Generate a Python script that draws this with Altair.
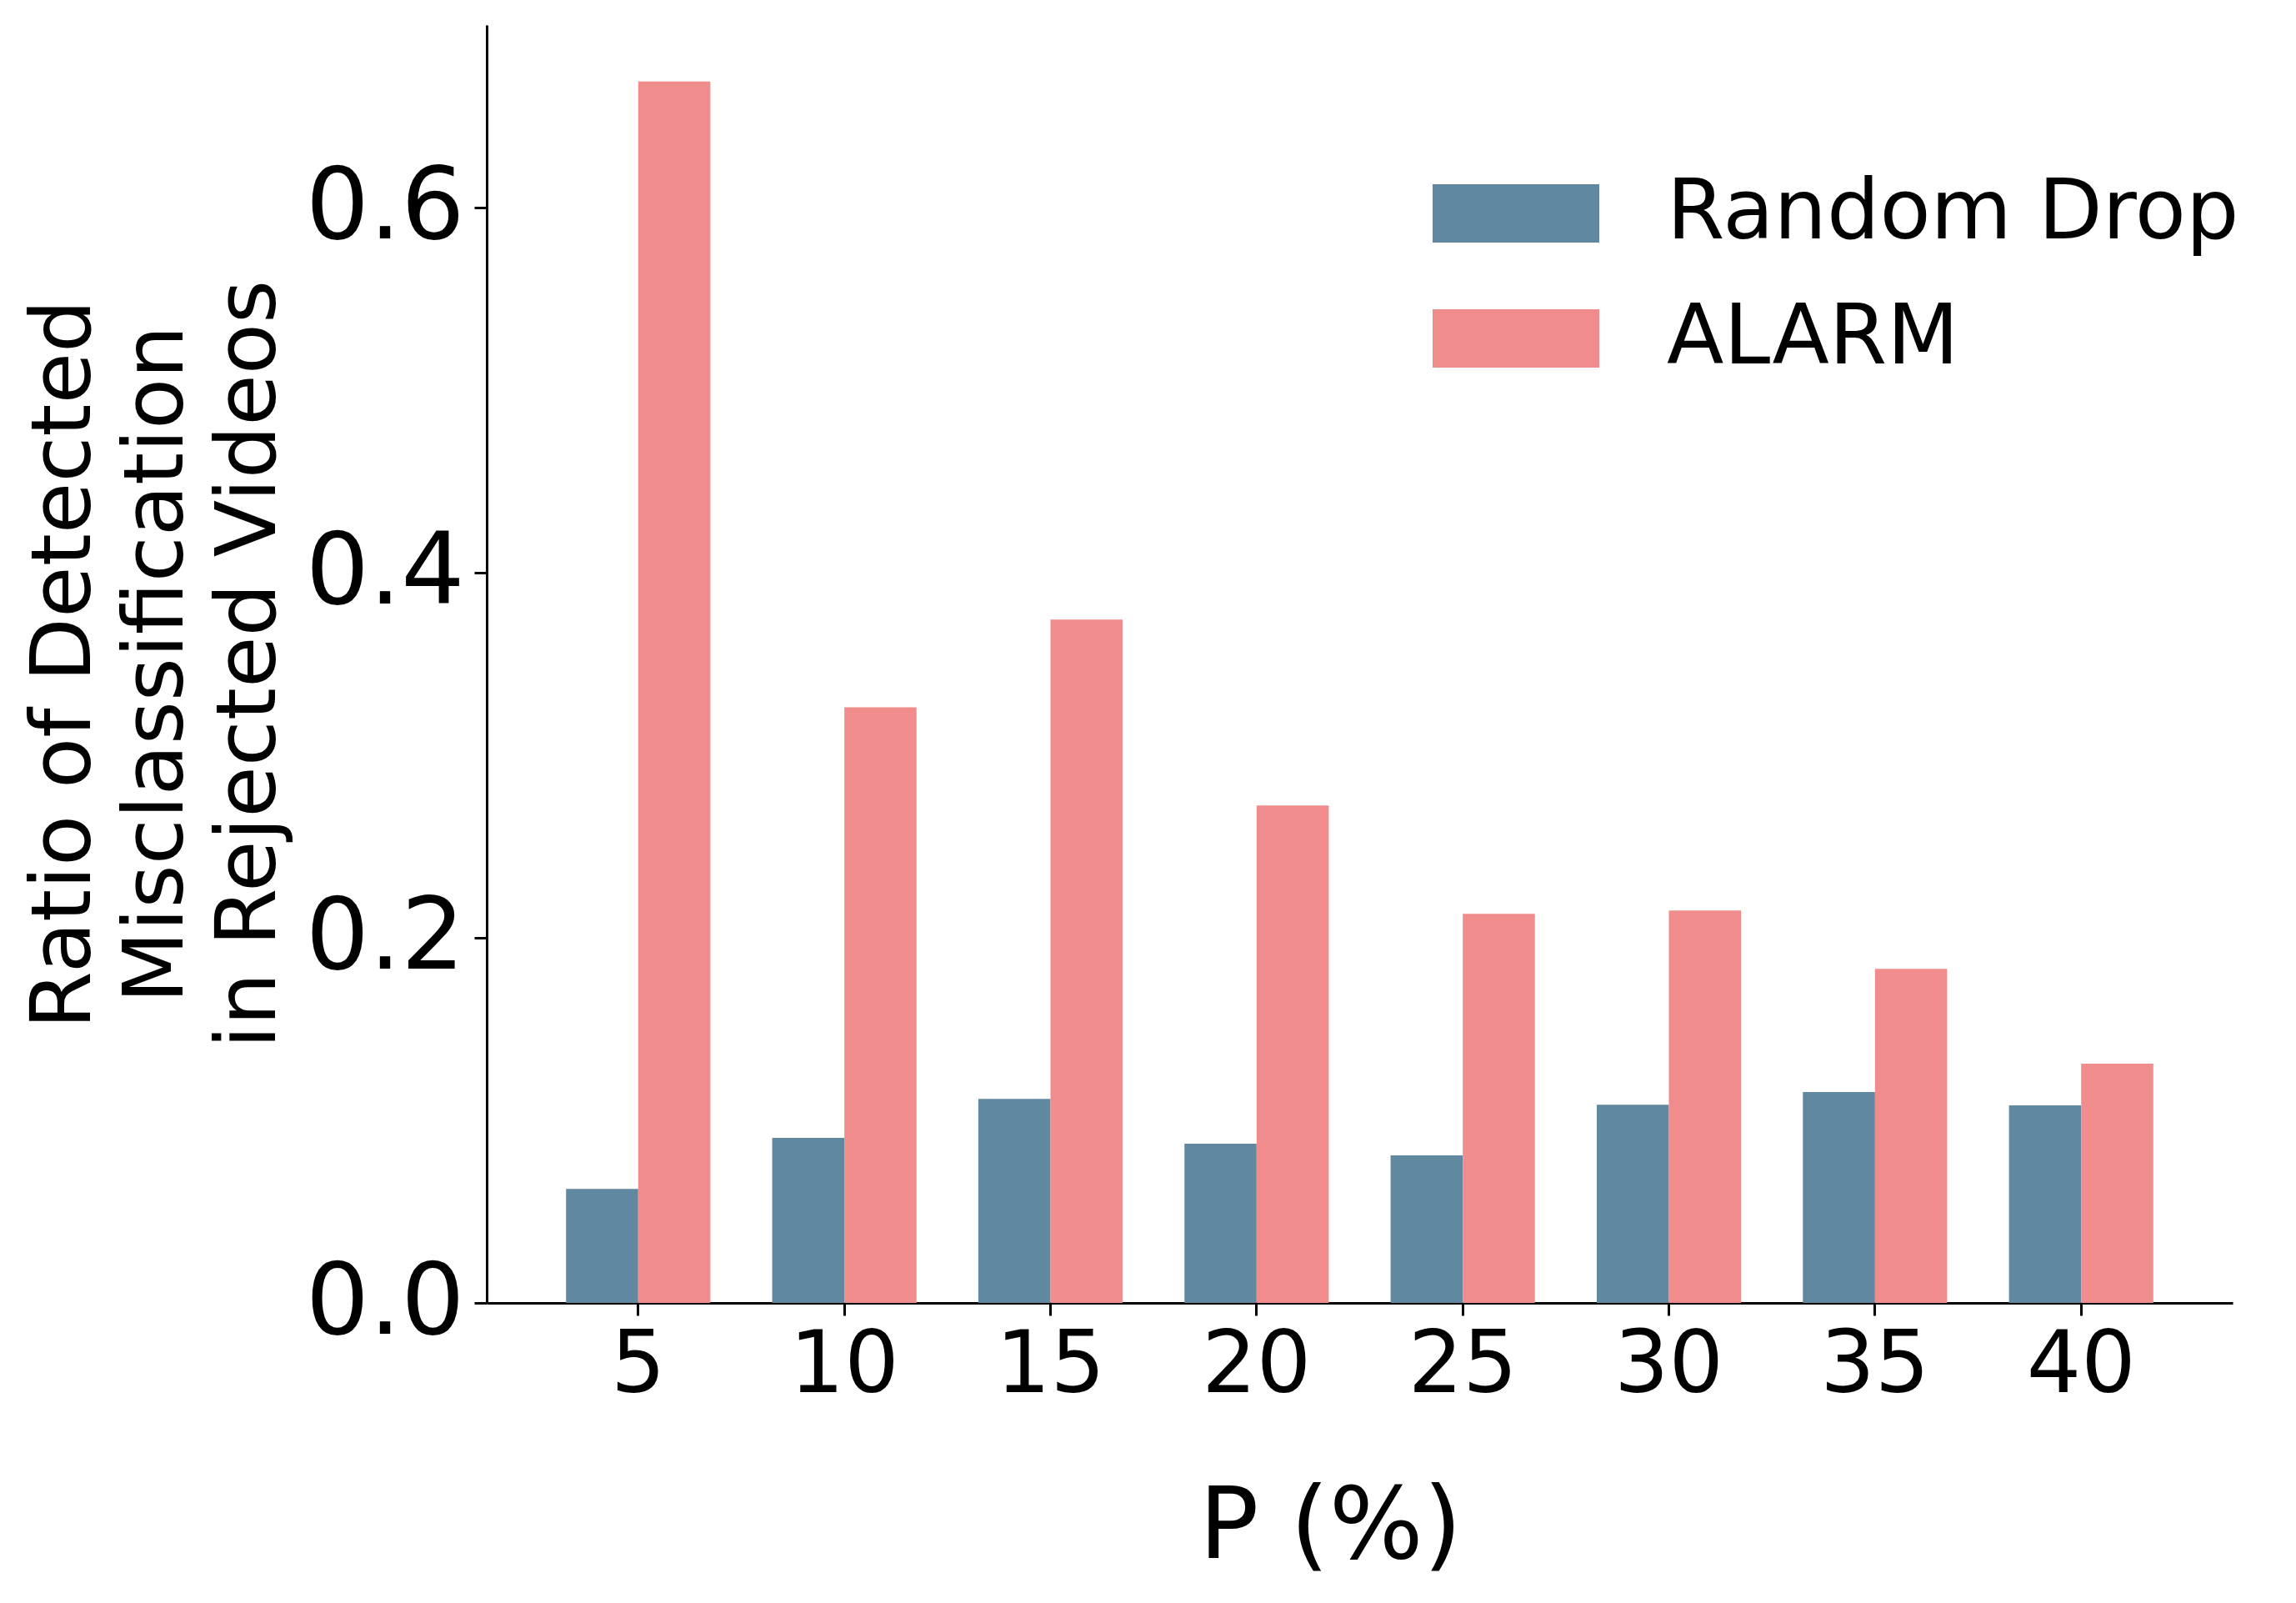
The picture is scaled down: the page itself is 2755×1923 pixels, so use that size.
import altair as alt
import pandas as pd

# ---- data ----
p_values = [5, 10, 15, 20, 25, 30, 35, 40]
random_drop = [0.0625, 0.0904, 0.1118, 0.0872, 0.0808, 0.1086, 0.1155, 0.1082]
alarm = [0.6691, 0.3263, 0.3743, 0.2725, 0.2131, 0.2150, 0.1830, 0.1310]
series_names = ["Random Drop", "ALARM"]
series_colors = ["#6088A0", "#F08C8C"]
y_ticks = [0.0, 0.2, 0.4, 0.6]
y_title = ["Ratio of Detected", "Misclassification", "in Rejected Videos"]
x_title = "P (%)"

rows = []
for p, v in zip(p_values, random_drop):
    rows.append({"P": str(p), "series": series_names[0], "value": v})
for p, v in zip(p_values, alarm):
    rows.append({"P": str(p), "series": series_names[1], "value": v})
df = pd.DataFrame(rows)

FONT = "DejaVu Sans"
W, H = 2095, 1533

chart = (
    alt.Chart(df)
    .mark_bar()
    .encode(
        x=alt.X(
            "P:N",
            sort=[str(p) for p in p_values],
            scale=alt.Scale(paddingInner=0.3, paddingOuter=0.385),
            axis=alt.Axis(
                title=x_title,
                labelAngle=0,
                labelFontSize=103,
                labelPadding=10,
                labelLimit=1000,
                titleFontSize=119,
                titleFontWeight="normal",
                titleBaseline="alphabetic",
                titleAlign="center",
                titleX=1012,
                titleY=305,
            ),
        ),
        xOffset=alt.XOffset("series:N", sort=series_names),
        y=alt.Y(
            "value:Q",
            scale=alt.Scale(domain=[0, 0.7], nice=False, zero=True),
            axis=alt.Axis(
                title=y_title,
                values=y_ticks,
                format=".1f",
                labelFontSize=120,
                labelPadding=12,
                labelLimit=1000,
                titleFontSize=100,
                titleFontWeight="normal",
                titleLineHeight=111,
                titleAngle=270,
                titleBaseline="top",
                titleAlign="center",
                titleX=-556,
                titleY=H / 2,
                titleLimit=3000,
            ),
        ),
        color=alt.Color(
            "series:N",
            sort=series_names,
            scale=alt.Scale(domain=series_names, range=series_colors),
            legend=alt.Legend(
                title=None,
                orient="none",
                legendX=1135,
                legendY=126,
                symbolType="M-1,-0.35L1,-0.35L1,0.35L-1,0.35Z",
                symbolSize=40000,
                symbolStrokeWidth=0,
                symbolOpacity=1,
                labelFontSize=100,
                labelOffset=81,
                labelLimit=3000,
                labelColor="black",
                labelFont=FONT,
                rowPadding=-9,
                padding=0,
            ),
        ),
    )
    .properties(
        width=W,
        height=H,
        autosize=alt.AutoSizeParams(type="none"),
        padding={"left": 576, "top": 22, "right": 60, "bottom": 340},
    )
    .configure(font=FONT, background="white")
    .configure_view(stroke=None)
    .configure_axis(
        grid=False,
        domainColor="black",
        domainWidth=3,
        tickColor="black",
        tickWidth=3,
        tickSize=15,
        labelColor="black",
        titleColor="black",
        labelFont=FONT,
        titleFont=FONT,
    )
)

chart.save("out.html", embed_options={"renderer": "svg", "actions": False})
